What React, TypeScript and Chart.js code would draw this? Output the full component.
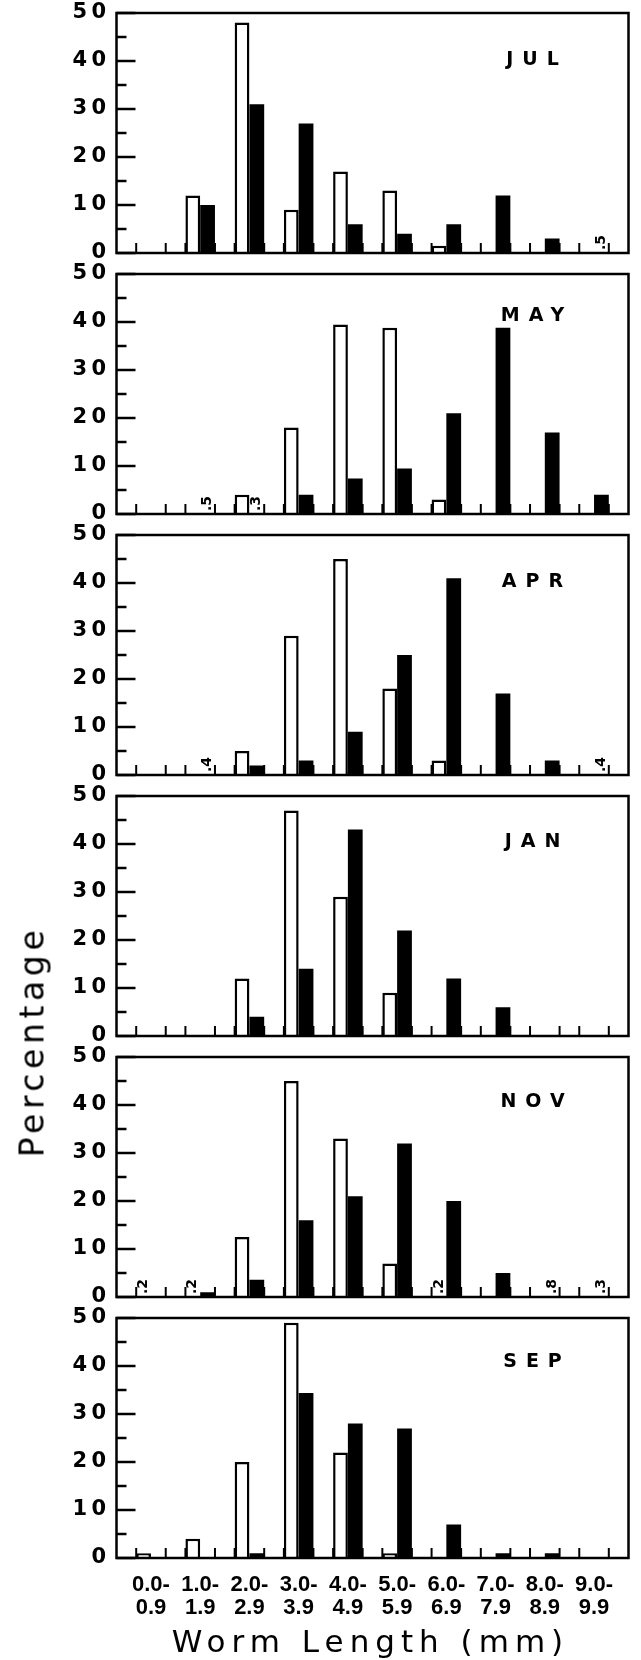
import React, { useEffect, useRef } from 'react';
import { Chart, registerables } from 'chart.js';

Chart.register(...registerables);

// ---------- data ----------
const xLabelTop = ['0.0-', '1.0-', '2.0-', '3.0-', '4.0-', '5.0-', '6.0-', '7.0-', '8.0-', '9.0-'];
const xLabelBottom = ['0.9', '1.9', '2.9', '3.9', '4.9', '5.9', '6.9', '7.9', '8.9', '9.9'];
const yTickValues = [0, 10, 20, 30, 40, 50];

const julOpen = [0, 12, 48, 9, 17, 13, 1.5, 0, 0, 0];
const julSolid = [0, 10, 31, 27, 6, 4, 6, 12, 3, 0];
const julNotes = [{ cat: 9, bar: 1, text: '.5' }];

const mayOpen = [0, 0, 4, 18, 39.5, 38.8, 3, 0, 0, 0];
const maySolid = [0, 0, 0, 4, 7.4, 9.5, 21, 38.8, 17, 4];
const mayNotes = [
  { cat: 1, bar: 1, text: '.5' },
  { cat: 2, bar: 1, text: '.3' },
];

const aprOpen = [0, 0, 5, 29, 45, 18, 3, 0, 0, 0];
const aprSolid = [0, 0, 2, 3, 9, 25, 41, 17, 3, 0];
const aprNotes = [
  { cat: 1, bar: 1, text: '.4' },
  { cat: 9, bar: 1, text: '.4' },
];

const janOpen = [0, 0, 12, 47, 29, 9, 0, 0, 0, 0];
const janSolid = [0, 0, 4, 14, 43, 22, 12, 6, 0, 0];
const janNotes: { cat: number; bar: number; text: string }[] = [];

const novOpen = [0, 0, 12.5, 45, 33, 7, 0, 0, 0, 0];
const novSolid = [0, 1, 3.6, 16, 21, 32, 20, 5, 0, 0];
const novNotes = [
  { cat: 0, bar: 0, text: '.2' },
  { cat: 1, bar: 0, text: '.2' },
  { cat: 6, bar: 0, text: '.2' },
  { cat: 8, bar: 1, text: '.8' },
  { cat: 9, bar: 1, text: '.3' },
];

const sepOpen = [1, 4, 20, 49, 22, 1, 0, 0, 0, 0];
const sepSolid = [0, 0, 1, 34.4, 28, 27, 7, 1, 1, 0];
const sepNotes: { cat: number; bar: number; text: string }[] = [];

const months = ['JUL', 'MAY', 'APR', 'JAN', 'NOV', 'SEP'];
const openSeries = [julOpen, mayOpen, aprOpen, janOpen, novOpen, sepOpen];
const solidSeries = [julSolid, maySolid, aprSolid, janSolid, novSolid, sepSolid];
const noteSeries = [julNotes, mayNotes, aprNotes, janNotes, novNotes, sepNotes];

// ---------- layout ----------
const W = 641;
const BOX_LEFT = 116.5;
const BOX_RIGHT = 628.5;
const FIRST_TOP = 13;
const PITCH = 261;
const BOX_H = 240;
const PAD = 12;
const X_AXIS_H = 70;
const MONTH_X = 416;
const MONTH_Y = [47, 42, 47, 46, 45, 44];
const MONTH_SPACING = 9;

function makeDecor(idx: number) {
  return {
    id: 'decor',
    beforeDatasetsDraw(chart: any) {
      const { ctx, scales } = chart;
      const x = scales.x;
      const y = scales.y;
      const y0 = y.getPixelForValue(0);
      ctx.save();
      ctx.strokeStyle = '#000';
      ctx.lineWidth = 2;
      xLabelTop.forEach((_, i) => {
        [-0.3, 0.3].forEach((d) => {
          const px = x.getPixelForValue(i + d);
          ctx.beginPath();
          ctx.moveTo(px, y0);
          ctx.lineTo(px, y0 - 10);
          ctx.stroke();
        });
      });
      ctx.restore();
    },
    afterDatasetsDraw(chart: any) {
      const { ctx, chartArea: a, scales } = chart;
      const x = scales.x;
      const y = scales.y;
      ctx.save();
      ctx.strokeStyle = '#000';
      ctx.fillStyle = '#000';
      ctx.lineWidth = 2.5;
      for (let v = 0; v <= 50; v += 5) {
        const py = y.getPixelForValue(v);
        const len = v % 10 === 0 ? 19 : 10;
        ctx.beginPath();
        ctx.moveTo(a.left, py);
        ctx.lineTo(a.left + len, py);
        ctx.stroke();
      }
      ctx.lineWidth = 2.5;
      ctx.strokeRect(a.left, a.top, a.right - a.left, a.bottom - a.top);
      ctx.font = 'bold 19px "DejaVu Sans"';
      (ctx as any).letterSpacing = MONTH_SPACING + 'px';
      ctx.textAlign = 'center';
      ctx.textBaseline = 'middle';
      ctx.fillText(months[idx], a.left + MONTH_X + MONTH_SPACING / 2, a.top + MONTH_Y[idx]);
      (ctx as any).letterSpacing = '0px';
      ctx.font = 'bold 14px "DejaVu Sans"';
      ctx.textAlign = 'left';
      ctx.textBaseline = 'middle';
      const y0 = y.getPixelForValue(0);
      noteSeries[idx].forEach((n) => {
        const px = x.getPixelForValue(n.cat + (n.bar === 0 ? -0.15 : 0.15));
        ctx.save();
        ctx.translate(px, y0 - 3);
        ctx.rotate(-Math.PI / 2);
        ctx.fillText(n.text, 0, 0);
        ctx.restore();
      });
      ctx.restore();
    },
  };
}

function Panel({ idx }: { idx: number }) {
  const ref = useRef<HTMLCanvasElement>(null);
  const last = idx === months.length - 1;
  const height = PAD + BOX_H + (last ? X_AXIS_H : PAD);
  useEffect(() => {
    const canvas = ref.current!;
    const chart = new Chart(canvas, {
      type: 'bar',
      data: {
        datasets: [
          {
            data: openSeries[idx].map((v, i) => ({ x: i, y: v })),
            backgroundColor: '#fff',
            borderColor: '#000',
            borderWidth: 2.5,
          },
          {
            data: solidSeries[idx].map((v, i) => ({ x: i, y: v })),
            backgroundColor: '#000',
            borderColor: '#000',
            borderWidth: 0,
          },
        ],
      } as any,
      options: {
        responsive: false,
        animation: false,
        events: [],
        layout: {
          padding: { top: PAD, left: 0, right: W - BOX_RIGHT, bottom: last ? 0 : PAD },
        },
        datasets: { bar: { categoryPercentage: 0.6, barPercentage: 1 } },
        plugins: { legend: { display: false }, tooltip: { enabled: false } },
        scales: {
          x: {
            type: 'linear',
            min: -0.7,
            max: 9.7,
            offset: false,
            display: last,
            grid: { display: false, drawTicks: false, offset: false },
            border: { display: false },
            afterBuildTicks: (s: any) => {
              s.ticks = xLabelTop.map((_, i) => ({ value: i }));
            },
            afterFit: (s: any) => {
              s.height = last ? X_AXIS_H : 0;
              s.paddingLeft = 0;
              s.paddingRight = 0;
            },
            ticks: {
              autoSkip: false,
              maxRotation: 0,
              minRotation: 0,
              padding: 15,
              color: '#000',
              font: { family: '"Liberation Sans"', weight: 'bold', size: 22, lineHeight: 1.07 },
              callback: (v: any) => [xLabelTop[v], xLabelBottom[v]],
            },
          },
          y: {
            min: 0,
            max: 50,
            grid: { display: false, drawTicks: false },
            border: { display: false },
            afterBuildTicks: (s: any) => {
              s.ticks = yTickValues.map((v) => ({ value: v }));
            },
            afterFit: (s: any) => {
              s.width = BOX_LEFT;
              s.paddingTop = 0;
              s.paddingBottom = 0;
            },
            ticks: {
              padding: 10.5,
              color: '#000',
              font: { family: '"DejaVu Sans"', weight: 'bold', size: 21, lineHeight: 1 },
              callback: (v: any) => String(v).split('').join('\u2009'),
            },
          },
        },
      } as any,
      plugins: [makeDecor(idx)],
    });
    return () => chart.destroy();
  }, [idx]);
  return (
    <canvas
      ref={ref}
      width={W}
      height={height}
      style={{
        position: 'absolute',
        left: 0,
        top: FIRST_TOP + idx * PITCH - PAD,
        width: W,
        height,
      }}
    />
  );
}

export default function App() {
  return (
    <div
      style={{
        position: 'absolute',
        left: 0,
        top: 0,
        width: W,
        height: 1660,
        background: '#fff',
        overflow: 'hidden',
      }}
    >
      {months.map((m, i) => (
        <Panel key={m} idx={i} />
      ))}
      <div
        style={{
          position: 'absolute',
          left: 31.9 - 150,
          top: 1041 - 16.5,
          width: 300,
          height: 33,
          lineHeight: '33px',
          fontSize: 33,
          fontFamily: '"DejaVu Sans"',
          letterSpacing: '4.6px',
          textAlign: 'center',
          color: '#000',
          transform: 'rotate(-90deg)',
          transformOrigin: '50% 50%',
          whiteSpace: 'nowrap',
        }}
      >
        Percentage
      </div>
      <div
        style={{
          position: 'absolute',
          left: 367.5 - 250 + 3,
          top: 1652 - 26.2,
          width: 500,
          height: 31,
          lineHeight: '31px',
          fontSize: 31,
          fontFamily: '"DejaVu Sans"',
          letterSpacing: '6px',
          textAlign: 'center',
          color: '#000',
          whiteSpace: 'nowrap',
        }}
      >
        Worm Length (mm)
      </div>
    </div>
  );
}
